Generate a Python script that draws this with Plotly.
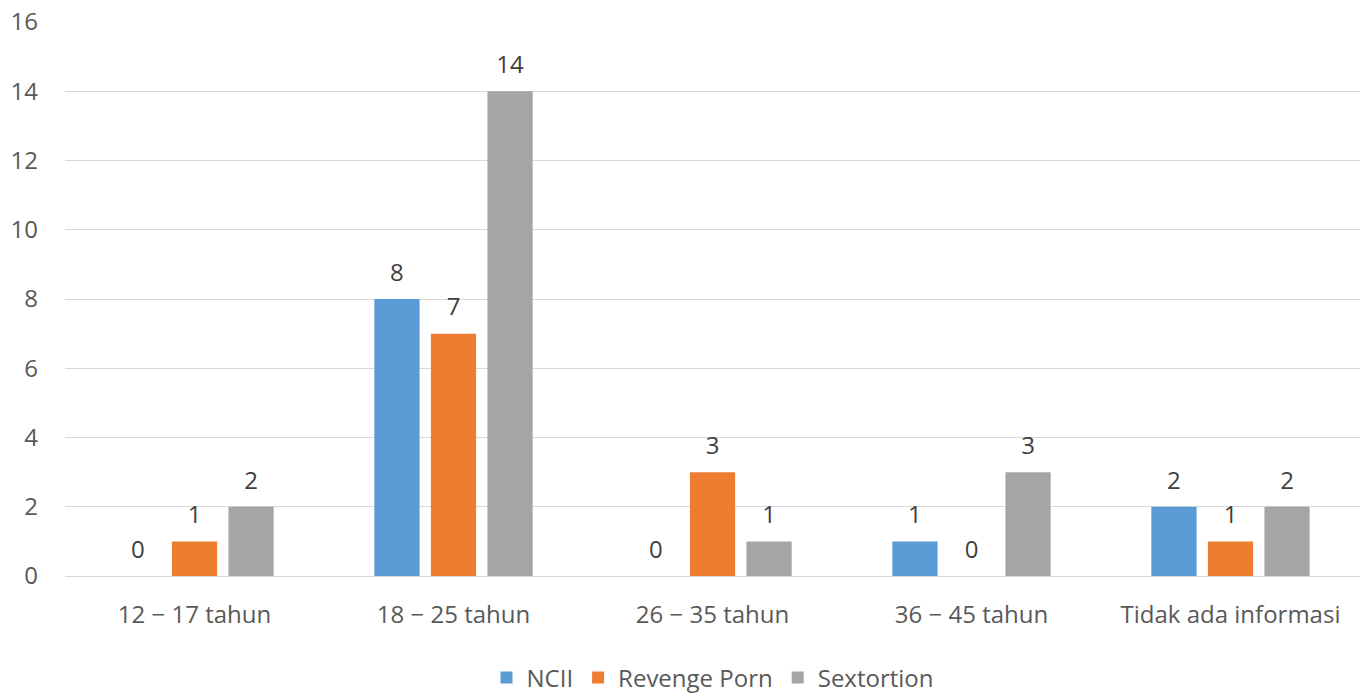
import plotly.graph_objects as go

categories = ["12 − 17 tahun", "18 − 25 tahun", "26 − 35 tahun", "36 − 45 tahun", "Tidak ada informasi"]
ncii = [0, 8, 0, 1, 2]
revenge_porn = [1, 7, 3, 0, 1]
sextortion = [2, 14, 1, 3, 2]
series_names = ["NCII", "Revenge Porn", "Sextortion"]
series_colors = ["#5B9BD5", "#ED7D31", "#A5A5A5"]
y_ticks = [0, 2, 4, 6, 8, 10, 12, 14, 16]

FONT = "Open Sans"
TICK_COLOR = "#595959"
LABEL_COLOR = "#404040"
FS = 24

fig = go.Figure()
for name, vals, col in zip(series_names, [ncii, revenge_porn, sextortion], series_colors):
    fig.add_trace(go.Bar(
        x=categories, y=vals, name=name,
        marker=dict(color=col, line=dict(width=0)),
        hoverinfo="skip",
    ))
for name, vals, col in zip(series_names, [ncii, revenge_porn, sextortion], series_colors):
    fig.add_trace(go.Scatter(
        x=categories, y=vals, name=name + " label",
        mode="markers+text",
        text=[str(v) for v in vals],
        textposition="top center",
        textfont=dict(family=FONT, size=FS, color=LABEL_COLOR),
        marker=dict(size=18, opacity=0, color=col),
        showlegend=False, hoverinfo="skip", cliponaxis=False,
    ))

fig.update_layout(
    width=1360, height=693,
    margin=dict(l=65, r=0, t=22, b=117, autoexpand=False),
    paper_bgcolor="white", plot_bgcolor="white",
    barmode="group", bargap=0.345, bargroupgap=0.2,
    scattermode="group", scattergap=0.345,
    font=dict(family=FONT, size=FS, color=TICK_COLOR),
    showlegend=True,
    legend=dict(orientation="h", x=0.5, xanchor="center", y=-0.184, yanchor="middle",
                font=dict(family=FONT, size=FS, color=TICK_COLOR),
                itemwidth=30, traceorder="normal"),
    xaxis=dict(showgrid=False, showline=True, linecolor="#D9D9D9", linewidth=1,
               ticks="", tickfont=dict(family=FONT, size=FS, color=TICK_COLOR),
               ticklabelstandoff=17, automargin=False),
    yaxis=dict(range=[0, 16], tickvals=y_ticks, showgrid=True, gridcolor="#D9D9D9",
               gridwidth=1, zeroline=False, showline=False, ticks="",
               tickfont=dict(family=FONT, size=FS, color=TICK_COLOR),
               ticklabelstandoff=26, automargin=False),
)

fig.write_html("out.html")
